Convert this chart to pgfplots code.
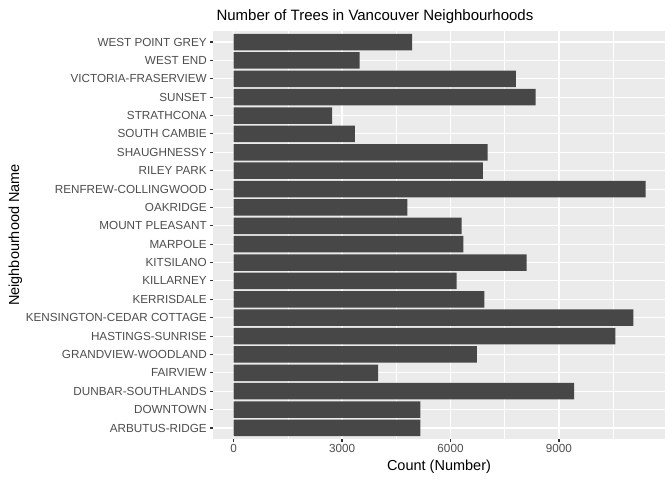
\documentclass[border=0pt]{standalone}
\usepackage{fontspec}
\setmainfont{Liberation Sans}
\usepackage{pgfplots}
\pgfplotsset{compat=1.18}
\definecolor{panel}{HTML}{EBEBEB}
\definecolor{barfill}{HTML}{474747}
\definecolor{ticklab}{HTML}{4D4D4D}
\definecolor{tickcol}{HTML}{333333}
\begin{document}
\begin{tikzpicture}[x=1pt,y=1pt]
\path (0,0) rectangle (672,480);
\begin{axis}[
  at={(213pt,41pt)}, anchor=south west,
  scale only axis, width=452pt, height=408pt,
  xmin=-568.2, xmax=11932,
  ymin=0.4, ymax=22.6,
  axis background/.style={fill=panel},
  axis line style={draw=none},
  xtick={0,3000,6000,9000},
  minor xtick={1500,4500,7500,10500},
  scaled x ticks=false,
  ytick={1,...,22},
  yticklabels={ARBUTUS-RIDGE,DOWNTOWN,DUNBAR-SOUTHLANDS,FAIRVIEW,GRANDVIEW-WOODLAND,HASTINGS-SUNRISE,KENSINGTON-CEDAR COTTAGE,KERRISDALE,KILLARNEY,KITSILANO,MARPOLE,MOUNT PLEASANT,OAKRIDGE,RENFREW-COLLINGWOOD,RILEY PARK,SHAUGHNESSY,SOUTH CAMBIE,STRATHCONA,SUNSET,VICTORIA-FRASERVIEW,WEST END,WEST POINT GREY},
  xmajorgrids, ymajorgrids, xminorgrids,
  major grid style={white, line width=1.07pt},
  minor grid style={white, line width=0.53pt},
  xtick pos=bottom, ytick pos=left, tick align=outside,
  major tick length=2.75pt, minor tick length=0pt,
  major tick style={tickcol, line width=1.07pt},
  ticklabel style={font=\fontsize{11.7}{13}\selectfont, text=ticklab},
  /pgf/number format/assume math mode=true,
  /pgf/number format/1000 sep={},
  xticklabel style={anchor=base, yshift=-10.5pt},
  yticklabel style={xshift=0pt},
]
\addplot[xbar, bar width=0.9, bar shift=0pt, fill=barfill, draw=none] coordinates {
(5167,1) (5167,2) (9417,3) (4000,4) (6726,5) (10560,6) (11060,7) (6940,8) (6167,9) (8107,10) (6357,11) (6310,12) (4810,13) (11393,14) (6893,15) (7024,16) (3357,17) (2726,18) (8357,19) (7810,20) (3488,21) (4940,22)
};
\end{axis}
\node[anchor=base west, font=\fontsize{15}{18}\selectfont] at (213,459) {Number of Trees in Vancouver Neighbourhoods};
\node[anchor=base, font=\fontsize{14.5}{16}\selectfont] at (439,9.5) {Count (Number)};
\node[anchor=base, rotate=90, font=\fontsize{14.5}{16}\selectfont] at (19,245) {Neighbourhood Name};
\end{tikzpicture}
\end{document}
